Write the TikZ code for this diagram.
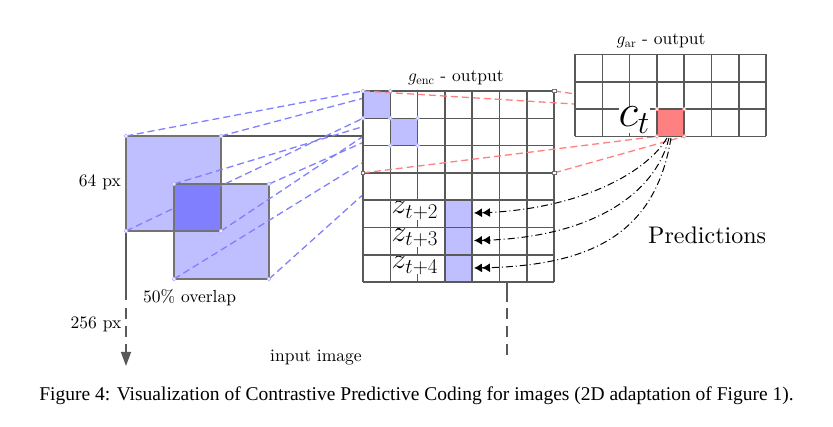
\RequirePackage{fix-cm}
\documentclass[tikz,border=0pt]{standalone}
\usepackage{fontspec}
\setmainfont{lmroman10-regular.otf}[ItalicFont=lmroman10-italic.otf, BoldFont=lmroman10-bold.otf]
\usetikzlibrary{arrows.meta}
\newfontfamily\capfont{Liberation Serif}
\newcommand\txtsz{\fontsize{17.5}{21}\selectfont}
\tikzset{
  gline/.style={draw=black!65, line width=1.5pt},
  gfill/.style={fill=white},
  bcell/.style={fill=blue!25},
  rcell/.style={fill=red!50},
  patchfill/.style={fill=blue!25},
  overfill/.style={fill=blue!50},
  patchedge/.style={draw=black!55, line width=1.6pt},
  imgdash/.style={gline, dash pattern=on 11pt off 7pt},
  bdash/.style={draw=blue!50, line width=1.3pt, dash pattern=on 7pt off 4pt},
  rdash/.style={draw=red!50, line width=1.3pt, dash pattern=on 7pt off 4pt},
  pred/.style={draw=black, line width=1pt, dash pattern=on 7pt off 3pt on 1pt off 3pt,
    -{Latex[length=8pt,width=9pt] Latex[length=8pt,width=9pt]}},
  lbl/.style={inner sep=0pt, font=\txtsz},
  zlbl/.style={fill=white, inner sep=0pt, font=\fontsize{30}{33}\selectfont, anchor=base west},
  bmk/.style={draw=blue!30, fill=white, line width=0.7pt},
  rmk/.style={draw=red!40, fill=white, line width=0.7pt},
  gmk/.style={draw=black!55, fill=white, line width=0.7pt},
}
\begin{document}
\begin{tikzpicture}[x=1pt,y=-1pt]
\useasboundingbox (0,0) rectangle (833,427);

% ---------- coordinates ----------
\coordinate (imgTL) at (126,136);
\coordinate (imgTR) at (507,136);
\coordinate (gTop) at (363,136);
\coordinate (lsol) at (126,300);
\coordinate (ldash) at (126,308);
\coordinate (ltip) at (126,366);
\coordinate (rsol) at (507,302);
\coordinate (rdsh) at (507,308);
\coordinate (rend) at (507,360);
% patches
\coordinate (p1a) at (126,136); \coordinate (p1b) at (221,136);
\coordinate (p1c) at (126,231); \coordinate (p1d) at (221,231);
\coordinate (p2a) at (174,184); \coordinate (p2b) at (269,184);
\coordinate (p2c) at (174,279); \coordinate (p2d) at (269,279);
% g_enc cells
\coordinate (e0a) at (363,91);    \coordinate (e0b) at (390.3,91);
\coordinate (e0c) at (363,118.3); \coordinate (e0d) at (390.3,118.3);
\coordinate (e1a) at (390.3,118.3); \coordinate (e1b) at (417.6,118.3);
\coordinate (e1c) at (390.3,145.6); \coordinate (e1d) at (417.6,145.6);
% receptive region
\coordinate (rTL) at (363,91);    \coordinate (rTR) at (554.1,91);
\coordinate (rBL) at (363,172.9); \coordinate (rBR) at (554.1,172.9);
% c_t cell
\coordinate (cTL) at (656.9,109.1); \coordinate (cTR) at (684.2,109.1);
\coordinate (cBL) at (656.9,136.4); \coordinate (cBR) at (684.2,136.4);
% prediction ends
\coordinate (a1) at (667,138); \coordinate (a2) at (669,138); \coordinate (a3) at (671,138);
\coordinate (t1) at (474,213); \coordinate (t2) at (474,240.5); \coordinate (t3) at (474,268);

% ---------- input image ----------
\draw[gline] (imgTL) -- (gTop);
\draw[gline] (imgTL) -- (lsol);
\draw[imgdash, -{Triangle[length=14pt,width=10pt]}] (ldash) -- (ltip);
\draw[gline] (imgTR) -- (rsol);
\draw[imgdash] (rdsh) -- (rend);

% patches
\fill[patchfill] (p1a) rectangle (p1d);
\fill[patchfill] (p2a) rectangle (p2d);
\fill[overfill] (p2a) rectangle (p1d);
\draw[patchedge] (p1a) rectangle (p1d);
\draw[patchedge] (p2a) rectangle (p2d);

% blue dashed projections
\draw[bdash] (p1a) -- (e0a);
\draw[bdash] (p1b) -- (e0b);
\draw[bdash] (p1c) -- (e0c);
\draw[bdash] (p1d) -- (e0d);
\draw[bdash] (p2a) -- (e1a);
\draw[bdash] (p2b) -- (e1b);
\draw[bdash] (p2c) -- (e1c);
\draw[bdash] (p2d) -- (e1d);

% ---------- g_enc grid ----------
\fill[gfill] (363,91) rectangle (554.1,282.1);
\fill[bcell] (e0a) rectangle (e0d);
\fill[bcell] (e1a) rectangle (e1d);
\fill[bcell] (444.9,200.2) rectangle (472.2,282.1);
\foreach \i in {0,...,7} {
  \draw[gline] ({363+\i*27.3},91) -- ({363+\i*27.3},282.1);
}
\node[zlbl] (z2) at (391.5,214) {$z_{t+2}$};
\node[zlbl] (z3) at (391.5,241.3) {$z_{t+3}$};
\node[zlbl] (z4) at (391.5,268.6) {$z_{t+4}$};
\foreach \i in {0,...,7} {
  \draw[gline] (363,{91+\i*27.3}) -- (554.1,{91+\i*27.3});
}
\node[lbl, anchor=base west] (genc) at (408,81.5) {$g_{\mathrm{enc}}$ - output};

% red dashed projections
\draw[rdash] (rTL) -- (cTL);
\draw[rdash] (rTR) -- (cTR);
\draw[rdash] (rBL) -- (cBL);
\draw[rdash] (rBR) -- (cBR);

% ---------- g_ar grid ----------
\fill[gfill] (575,54.5) rectangle (766.1,136.4);
\fill[rcell] (cTL) rectangle (cBR);
\foreach \i in {0,...,7} {
  \draw[gline] ({575+\i*27.3},54.5) -- ({575+\i*27.3},136.4);
}
\foreach \i in {0,...,3} {
  \draw[gline] (575,{54.5+\i*27.3}) -- (766.1,{54.5+\i*27.3});
}
\node[fill=white, inner sep=0pt, anchor=base east, font=\fontsize{46}{50}\selectfont] (ct) at (650,126.5) {$c_t$};
\node[lbl, anchor=base west] (gar) at (616.5,45) {$g_{\mathrm{ar}}$ - output};

% markers
\foreach \c in {p1a,p1b,p1c,p1d,p2a,p2b,p2c,p2d,e0a,e0b,e0c,e0d,e1b,e1c,e1d} {
  \draw[bmk] (\c) circle[radius=1.8pt];
}
\foreach \c in {rBL,rTR,rBR} {
  \draw[gmk] ([shift={(-1.8pt,-1.8pt)}]\c) rectangle ([shift={(1.8pt,1.8pt)}]\c);
}
\foreach \c in {cTL,cTR,cBL,cBR} {
  \draw[rmk] (\c) circle[radius=1.8pt];
}

% predictions
\draw[pred] (a1) .. controls (645,175) and (575,210) .. (t1);
\draw[pred] (a2) .. controls (655,195) and (590,238) .. (t2);
\draw[pred] (a3) .. controls (655,235) and (590,266) .. (t3);

% ---------- labels ----------
\node[lbl, anchor=base east] (l64) at (121,187) {64 px};
\node[lbl, anchor=base east] (l256) at (121.5,329) {256 px};
\node[lbl, anchor=base west] (lovl) at (143,303) {50\% overlap};
\node[lbl, anchor=base west] (linp) at (270,361.5) {input image};
\node[inner sep=0pt, anchor=base west, font=\fontsize{24}{28}\selectfont] (lpred) at (648,243.3) {Predictions};
\node[inner sep=0pt, anchor=base, font=\capfont\fontsize{19.5}{23}\selectfont] (cap) at (416.5,401) {Figure 4: Visualization of Contrastive Predictive Coding for images (2D adaptation of Figure 1).};
\end{tikzpicture}
\end{document}
